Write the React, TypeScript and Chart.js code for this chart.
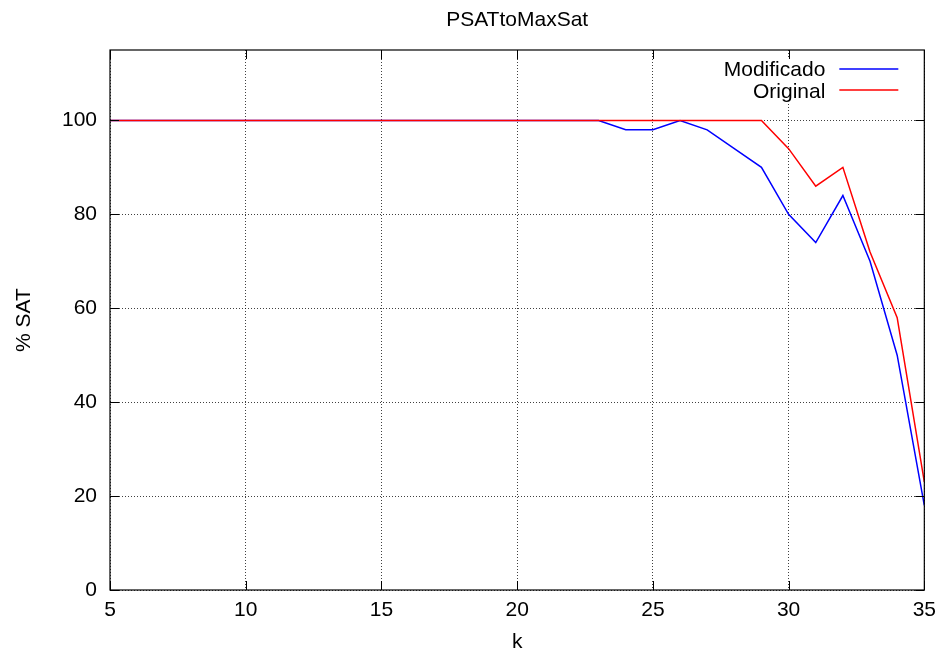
import React, { useEffect, useRef } from 'react';
import { Chart, registerables } from 'chart.js';

Chart.register(...registerables);

// ---- data ----
const kValues = [5, 6, 7, 8, 9, 10, 11, 12, 13, 14, 15, 16, 17, 18, 19, 20, 21, 22, 23, 24, 25, 26, 27, 28, 29, 30, 31, 32, 33, 34, 35];
const modificado = [100, 100, 100, 100, 100, 100, 100, 100, 100, 100, 100, 100, 100, 100, 100, 100, 100, 100, 100, 98, 98, 100, 98, 94, 90, 80, 74, 84, 70, 50, 18];
const original = [100, 100, 100, 100, 100, 100, 100, 100, 100, 100, 100, 100, 100, 100, 100, 100, 100, 100, 100, 100, 100, 100, 100, 100, 100, 94, 86, 90, 72, 58, 23];
const seriesLabels = ['Modificado', 'Original'];
const seriesColors = ['#0000ff', '#ff0000'];
const chartTitle = 'PSATtoMaxSat';
const xTitle = 'k';
const yTitle = '% SAT';

const FONT = '"Liberation Sans", Arial, Helvetica, sans-serif';

const gnuplotFrame = {
  id: 'gnuplotFrame',
  afterDraw(chart: any) {
    const { ctx, chartArea: a, scales } = chart;
    ctx.save();

    // title
    ctx.fillStyle = '#000';
    ctx.font = `21px ${FONT}`;
    ctx.textAlign = 'center';
    ctx.textBaseline = 'alphabetic';
    ctx.fillText(chartTitle, (a.left + a.right) / 2, 26);

    // key (opaque)
    ctx.fillStyle = '#fff';
    ctx.fillRect(a.right - 215, a.top + 9, 200, 45);
    const ds = chart.data.datasets;
    ctx.font = `21px ${FONT}`;
    ctx.textAlign = 'right';
    ctx.textBaseline = 'alphabetic';
    const baselines = [a.top + 26, a.top + 47.5];
    const lineYs = [a.top + 19, a.top + 40];
    ds.forEach((d: any, i: number) => {
      ctx.fillStyle = '#000';
      ctx.fillText(d.label, a.right - 99, baselines[i]);
      ctx.strokeStyle = d.borderColor;
      ctx.lineWidth = 1.5;
      ctx.beginPath();
      ctx.moveTo(a.right - 85, lineYs[i]);
      ctx.lineTo(a.right - 26, lineYs[i]);
      ctx.stroke();
    });

    // border
    ctx.strokeStyle = '#000';
    ctx.lineWidth = 1.2;
    ctx.strokeRect(a.left, a.top, a.right - a.left, a.bottom - a.top);

    // tick marks (inside, mirrored)
    const tl = 9;
    ctx.lineWidth = 1;
    ctx.beginPath();
    scales.x.ticks.forEach((t: any) => {
      const px = Math.round(scales.x.getPixelForValue(t.value)) + 0.5;
      ctx.moveTo(px, a.bottom);
      ctx.lineTo(px, a.bottom - tl);
      ctx.moveTo(px, a.top);
      ctx.lineTo(px, a.top + tl);
    });
    scales.y.ticks.forEach((t: any) => {
      const py = Math.round(scales.y.getPixelForValue(t.value)) + 0.5;
      ctx.moveTo(a.left, py);
      ctx.lineTo(a.left + tl, py);
      ctx.moveTo(a.right, py);
      ctx.lineTo(a.right - tl, py);
    });
    ctx.stroke();
    ctx.restore();
  },
};

export default function App() {
  const canvasRef = useRef<HTMLCanvasElement | null>(null);

  useEffect(() => {
    const canvas = canvasRef.current;
    if (!canvas) return;
    const chart = new Chart(canvas, {
      type: 'line',
      data: {
        datasets: [
          {
            label: seriesLabels[0],
            data: kValues.map((k, i) => ({ x: k, y: modificado[i] })),
            borderColor: seriesColors[0],
            backgroundColor: seriesColors[0],
            borderWidth: 1.5,
            pointRadius: 0,
            tension: 0,
            order: 2,
          },
          {
            label: seriesLabels[1],
            data: kValues.map((k, i) => ({ x: k, y: original[i] })),
            borderColor: seriesColors[1],
            backgroundColor: seriesColors[1],
            borderWidth: 1.5,
            pointRadius: 0,
            tension: 0,
            order: 1,
          },
        ],
      },
      options: {
        responsive: false,
        animation: false,
        layout: { padding: { left: 0, top: 50, right: 17, bottom: 0 } },
        plugins: {
          legend: { display: false },
          title: { display: false },
          tooltip: { enabled: false },
        },
        scales: {
          x: {
            type: 'linear',
            min: 5,
            max: 35,
            afterFit: (s: any) => { s.height = 68; },
            ticks: {
              stepSize: 5,
              includeBounds: false,
              maxRotation: 0,
              autoSkip: false,
              padding: 8,
              color: '#000',
              font: { family: FONT, size: 21 },
            },
            grid: { color: 'rgba(0,0,0,0.75)', lineWidth: 1, drawTicks: false },
            border: { display: false, dash: [1, 2] },
            title: {
              display: true,
              text: xTitle,
              color: '#000',
              font: { family: FONT, size: 21 },
              padding: { top: 0, bottom: 3 },
            },
          },
          y: {
            type: 'linear',
            min: 0,
            max: 115,
            afterFit: (s: any) => { s.width = 110; },
            ticks: {
              stepSize: 20,
              includeBounds: false,
              padding: 13,
              color: '#000',
              font: { family: FONT, size: 21 },
            },
            grid: { color: 'rgba(0,0,0,0.75)', lineWidth: 1, drawTicks: false },
            border: { display: false, dash: [1, 2] },
            title: {
              display: true,
              text: yTitle,
              color: '#000',
              font: { family: FONT, size: 21 },
              padding: { top: 12, bottom: 0 },
            },
          },
        },
      },
      plugins: [gnuplotFrame],
    });
    return () => chart.destroy();
  }, []);

  return (
    <div style={{ position: 'fixed', left: 0, top: 0, width: 944, height: 658, background: '#fff' }}>
      <canvas ref={canvasRef} width={944} height={658} style={{ display: 'block' }} />
    </div>
  );
}
